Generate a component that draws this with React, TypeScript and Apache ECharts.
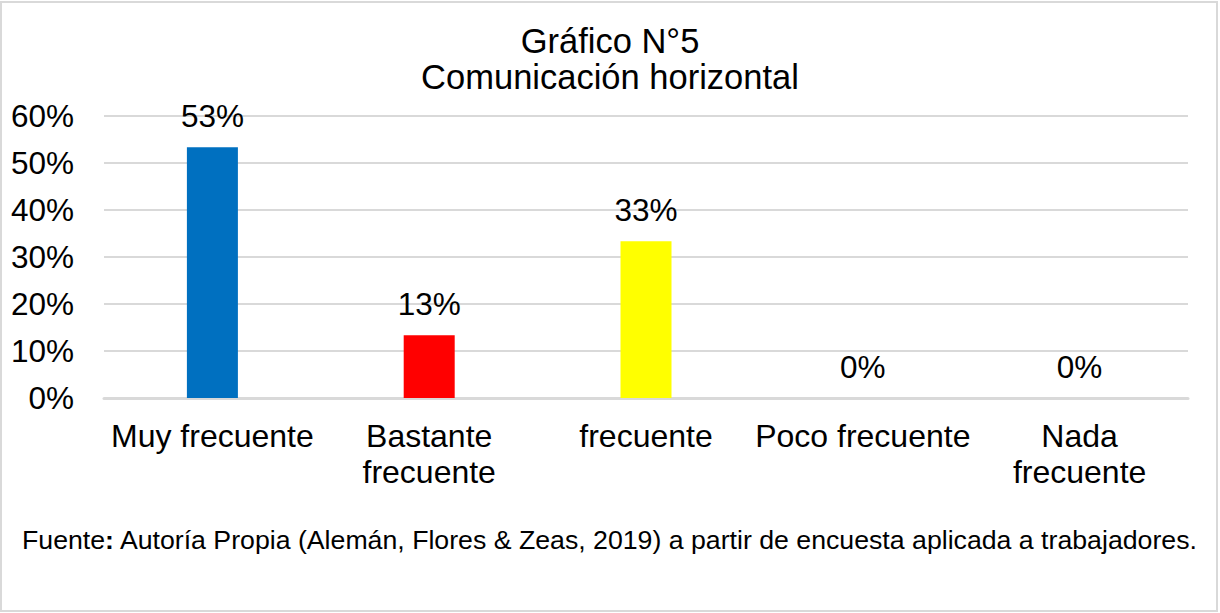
import React, { useEffect, useRef } from "react";
import * as echarts from "echarts";

const categories = ["Muy frecuente", "Bastante\nfrecuente", "frecuente", "Poco frecuente", "Nada\nfrecuente"];
const values = [53.33, 13.33, 33.33, 0, 0];
const barColors = ["#0070C0", "#FF0000", "#FFFF00", "#A5A5A5", "#4472C4"];
const yTicks = [0, 10, 20, 30, 40, 50, 60];
const titleLines = ["Gráfico N°5", "Comunicación horizontal"];
const sourceLabel = "Fuente";
const sourceText = " Autoría Propia (Alemán, Flores & Zeas, 2019) a partir de encuesta aplicada a trabajadores.";

const FONT = "'Liberation Sans', Arial, sans-serif";

export default function App() {
  const ref = useRef<HTMLDivElement>(null);
  useEffect(() => {
    const chart = echarts.init(ref.current!, null, { renderer: "svg" });
    chart.setOption({
      animation: false,
      backgroundColor: "#ffffff",
      textStyle: { fontFamily: FONT, color: "#000" },
      title: {
        text: titleLines.join("\n"),
        left: "center",
        top: 18,
        textStyle: { fontFamily: FONT, fontSize: 34.5, fontWeight: "normal", color: "#000", lineHeight: 36, align: "center" },
      },
      grid: { left: 104, right: 32, top: 116, bottom: 215 },
      xAxis: {
        type: "category",
        data: categories,
        axisLine: { lineStyle: { color: "#d9d9d9", width: 3 } },
        axisTick: { show: false },
        axisLabel: { fontFamily: FONT, fontSize: 32, color: "#000", margin: 20, lineHeight: 36, interval: 0 },
      },
      yAxis: {
        type: "value",
        min: yTicks[0],
        max: yTicks[yTicks.length - 1],
        interval: 10,
        axisLine: { show: false },
        axisTick: { show: false },
        splitLine: { lineStyle: { color: "#d9d9d9", width: 2 } },
        axisLabel: { fontFamily: FONT, fontSize: 31.5, color: "#000", margin: 30, formatter: (v: number) => v + "%" },
      },
      series: [
        {
          type: "bar",
          barWidth: 51,
          data: values.map((v, i) => ({ value: v, itemStyle: { color: barColors[i] } })),
          label: {
            show: true,
            position: "top",
            distance: 15,
            fontFamily: FONT,
            fontSize: 31.5,
            color: "#000",
            formatter: (p: any) => Math.round(p.value) + "%",
          },
        },
      ],
      graphic: [
        {
          type: "rect",
          shape: { x: 1, y: 2, width: 1216, height: 609 },
          style: { fill: "none", stroke: "#d9d9d9", lineWidth: 2 },
          silent: true,
        },
        {
          type: "text",
          left: 22,
          top: 526,
          style: {
            text: "{a|" + sourceLabel + "}{b|:}{a|" + sourceText + "}",
            rich: {
              a: { fontFamily: FONT, fontSize: 26.7, color: "#000" },
              b: { fontFamily: FONT, fontSize: 26.7, color: "#000", fontWeight: "bold" },
            },
          },
        },
      ],
    });
    return () => chart.dispose();
  }, []);
  return <div ref={ref} style={{ position: "fixed", left: 0, top: 0, width: 1220, height: 613 }} />;
}
